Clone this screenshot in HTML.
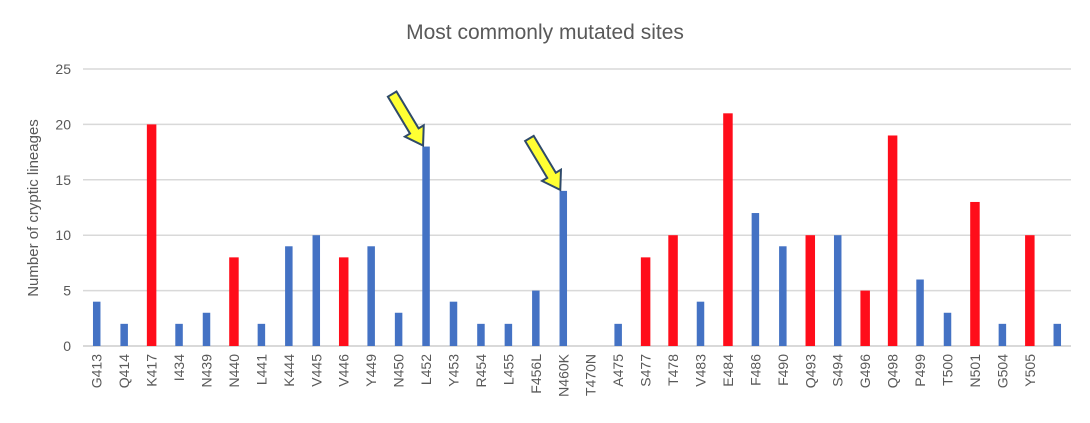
<!DOCTYPE html>
<html><head><meta charset="utf-8"><style>
html,body{margin:0;padding:0;background:#fff;}
svg text{font-family:"Liberation Sans",sans-serif;fill:#595959;}
</style></head><body>
<svg width="1090" height="418" viewBox="0 0 1090 418">
<text x="545" y="39" text-anchor="middle" font-size="21">Most commonly mutated sites</text>
<text transform="translate(38,208) rotate(-90)" text-anchor="middle" font-size="15">Number of cryptic lineages</text>
<g id="grid"></g><g id="bars"></g><g id="xlabels"></g><g id="arrows"></g>
</svg>
<script>
const categories=["G413","Q414","K417","I434","N439","N440","L441","K444","V445","V446","Y449","N450","L452","Y453","R454","L455","F456L","N460K","T470N","A475","S477","T478","V483","E484","F486","F490","Q493","S494","G496","Q498","P499","T500","N501","G504","Y505",""];
const values=[4,2,20,2,3,8,2,9,10,8,9,3,18,4,2,2,5,14,0,2,8,10,4,21,12,9,10,10,5,19,6,3,13,2,10,2];
const highlighted=["K417","N440","V446","S477","T478","E484","Q493","G496","Q498","N501","Y505"];
const yTicks=[0,5,10,15,20,25];
const arrowTargets=["L452","N460K"];
const NS="http://www.w3.org/2000/svg";
const L=83,R=1071,T=69,B=346,yMax=25;
const bw=(R-L)/categories.length;
const x=i=>L+bw*(i+0.5);
const y=v=>B-(v/yMax)*(B-T);
function mk(tag,attrs,parent){const e=document.createElementNS(NS,tag);for(const k in attrs)e.setAttribute(k,attrs[k]);parent.appendChild(e);return e;}
const grid=document.getElementById('grid');
yTicks.forEach(t=>{
  const ln=mk('line',{x1:L,x2:R,y1:y(t),y2:y(t),stroke:'#d9d9d9','stroke-width':t===0?2:1.5},grid);
  
  
  const tx=mk('text',{x:71,y:y(t)+5,'text-anchor':'end','font-size':14},grid);
  tx.textContent=t;
  
  
});
const bars=document.getElementById('bars'),xl=document.getElementById('xlabels');
categories.forEach((c,i)=>{
  const red=highlighted.includes(c);const w=red?9.5:7.5;
  const r=mk('rect',{x:x(i)-w/2,y:y(values[i]),width:w,height:B-y(values[i]),fill:red?'#ff0d1a':'#4472c4'},bars);
  
  
  if(c){
    const t=mk('text',{transform:`translate(${x(i)+5},354) rotate(-90)`,'text-anchor':'end','font-size':14},xl);
    t.textContent=c;
    
    
  }
});
const ar=document.getElementById('arrows');
arrowTargets.forEach(c=>{
  const i=categories.indexOf(c);
  const tx=x(i)-3,ty=y(values[i])-1;
  const len=60,ang=Math.atan2(50,30);
  const dx=Math.cos(ang),dy=Math.sin(ang),px=-dy,py=dx;
  const hl=17,sw=5,hw=11;
  const bx=tx-dx*hl,by=ty-dy*hl,sx=tx-dx*len,sy=ty-dy*len;
  const pts=[[sx+px*sw,sy+py*sw],[bx+px*sw,by+py*sw],[bx+px*hw,by+py*hw],[tx,ty],[bx-px*hw,by-py*hw],[bx-px*sw,by-py*sw],[sx-px*sw,sy-py*sw]];
  const p=mk('polygon',{points:pts.map(q=>q.join(',')).join(' '),fill:'#ffff33',stroke:'#2f4a6a','stroke-width':2,'stroke-linejoin':'miter'},ar);
  
  
});
</script>
</body></html>
